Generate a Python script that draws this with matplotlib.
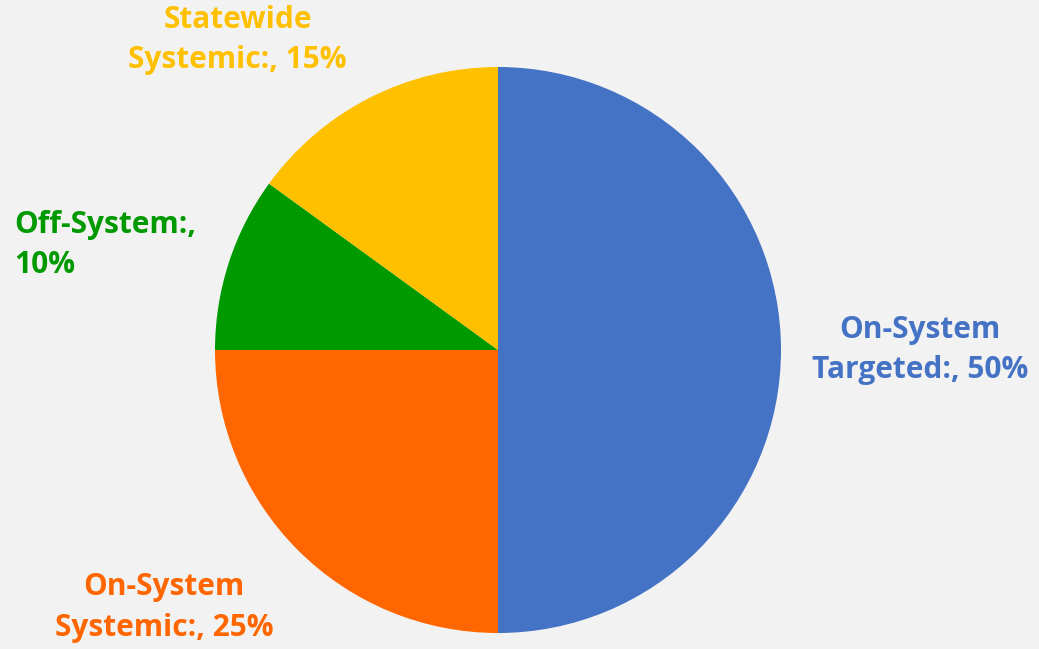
import matplotlib.pyplot as plt

categories = ['On-System\nTargeted:, 50%', 'On-System\nSystemic:, 25%',
              'Off-System:,\n10%', 'Statewide\nSystemic:, 15%']
shares = [50, 25, 10, 15]
colors = ['#4472C4', '#FF6600', '#009900', '#FFC000']

# label anchor points, in units of the pie radius
label_pos = [(1.49, 0.0, 'center'), (-1.18, -0.91, 'center'),
             (-1.71, 0.37, 'left'), (-0.92, 1.095, 'center')]

plt.rcParams['font.family'] = ['Open Sans', 'DejaVu Sans']

fig = plt.figure(figsize=(10.39, 6.49), dpi=100)
fig.patch.set_facecolor('#F2F2F2')
ax = fig.add_axes([215 / 1039, 16 / 649, 566 / 1039, 566 / 649])
ax.set_facecolor('#F2F2F2')

ax.pie(shares, colors=colors, startangle=90, counterclock=False,
       wedgeprops={'linewidth': 0})
ax.set_xlim(-1, 1)
ax.set_ylim(-1, 1)
ax.set_aspect('equal')

for text, col, (x, y, ha) in zip(categories, colors, label_pos):
    ax.text(x, y, text, color=col, fontsize=21.5, fontweight='bold',
            ha=ha, va='center', linespacing=1.45, clip_on=False)

fig.savefig('out.png', dpi=100, facecolor=fig.get_facecolor())
